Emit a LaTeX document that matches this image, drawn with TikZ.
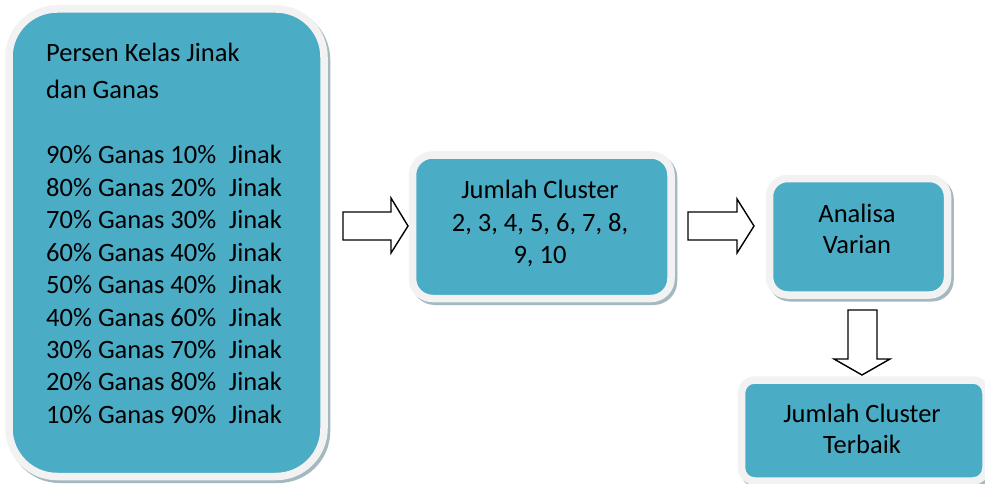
\documentclass[tikz,border=0pt]{standalone}
\usepackage{fontspec}
\setmainfont{Carlito}
\definecolor{tealbox}{HTML}{4BACC6}
\definecolor{rim}{HTML}{F2F2F2}
\definecolor{shade}{HTML}{A3B8BF}
\begin{document}
\begin{tikzpicture}[x=1pt,y=-1pt,
  boxshape/.style={rectangle,inner sep=0pt,draw=rim,line width=7.5pt,fill=tealbox},
  boxshadow/.style={rectangle,inner sep=0pt,draw=shade,line width=7.5pt,fill=shade},
  txt/.style={inner sep=0pt,font=\fontsize{26.5}{32}\selectfont},
  blockarrow/.style={draw=black,line width=1.4pt,fill=white,line join=miter}]
\useasboundingbox (0,0) rectangle (985,484);
\fill[white] (0,0) rectangle (985,484);
% shadows
\node[boxshadow,rounded corners=48pt,minimum width=315pt,minimum height=467.5pt] (s1) at (169,245.5) {};
\node[boxshadow,rounded corners=20pt,minimum width=258.5pt,minimum height=143.5pt] (s2) at (544.25,229.5) {};
\node[boxshadow,rounded corners=18pt,minimum width=178pt,minimum height=116.5pt] (s3) at (861,239.5) {};
\node[boxshadow,rounded corners=13pt,minimum width=244.5pt,minimum height=101pt] (s4) at (866.25,433.25) {};
% boxes
\node[boxshape,rounded corners=48pt,minimum width=315pt,minimum height=467.5pt] (b1) at (166.5,242.75) {};
\node[boxshape,rounded corners=20pt,minimum width=258.5pt,minimum height=143.5pt] (b2) at (541.75,226.75) {};
\node[boxshape,rounded corners=18pt,minimum width=178pt,minimum height=116.5pt] (b3) at (858.5,236.75) {};
\node[boxshape,rounded corners=13pt,minimum width=244.5pt,minimum height=101pt] (b4) at (863.75,430.5) {};
% texts of box 1
\node[txt,anchor=base west] (h1) at (46,62) {Persen Kelas Jinak};
\node[txt,anchor=base west] (h2) at (46,99) {dan Ganas};
\foreach \g/\j [count=\i from 0] in {90/10,80/20,70/30,60/40,50/40,40/60,30/70,20/80,10/90}{
  \node[txt,anchor=base west] (l\i) at (46,{164+32.4*\i}) {\g\% Ganas \j\%\hspace{0.25em} Jinak};
}
% texts of box 2
\node[txt,anchor=base] (m1) at (540,198) {Jumlah Cluster};
\node[txt,anchor=base] (m2) at (540,231) {2, 3, 4, 5, 6, 7, 8,};
\node[txt,anchor=base] (m3) at (540,263) {9, 10};
% texts of box 3
\node[txt,anchor=base] (a1) at (857,222) {Analisa};
\node[txt,anchor=base] (a2) at (857,253) {Varian};
% texts of box 4
\node[txt,anchor=base] (t1) at (862,422) {Jumlah Cluster};
\node[txt,anchor=base] (t2) at (862,453) {Terbaik};
% block arrows
\draw[blockarrow] (343,212) -- (391,212) -- (391,198) -- (408,226) -- (391,253) -- (391,240) -- (343,240) -- cycle;
\draw[blockarrow] (688,212) -- (737,212) -- (737,199) -- (754,226) -- (737,253) -- (737,240) -- (688,240) -- cycle;
\draw[blockarrow] (848,310) -- (877,310) -- (877,359) -- (890,359) -- (862,375) -- (834,359) -- (848,359) -- cycle;
\end{tikzpicture}
\end{document}
